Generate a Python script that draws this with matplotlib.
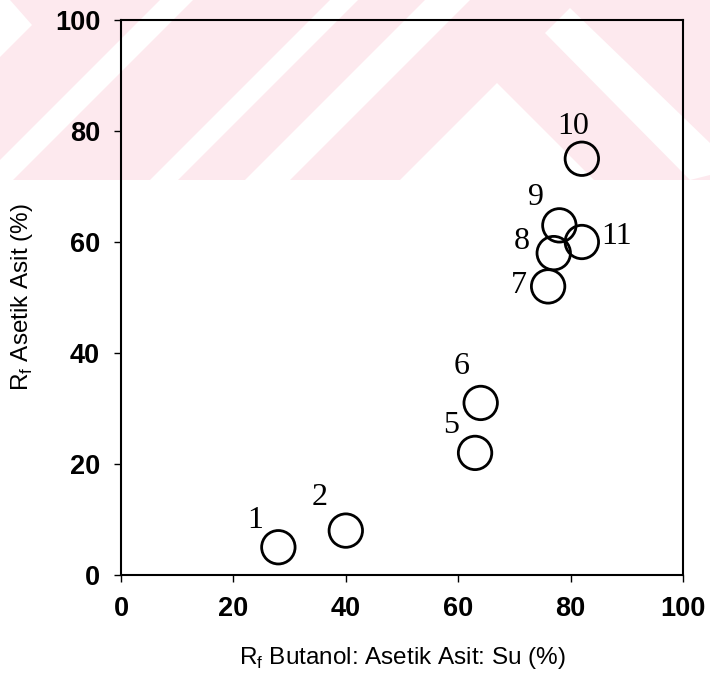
import matplotlib
matplotlib.use('Agg')
import matplotlib.pyplot as plt
from matplotlib.patches import Polygon

# data
labels = ['1', '2', '5', '6', '7', '8', '9', '10', '11']
rf_butanol = [28, 40, 63, 64, 76, 77, 78, 82, 82]
rf_asetik = [5, 8, 22, 31, 52, 58, 63, 75, 60]
# label offsets in points (dx, dy) from each circle
label_dx = [-17, -19, -17, -14, -21, -23, -17, -6, 25]
label_dy = [19, 24, 20, 26, 1, 8, 20, 23, 4]

W, H = 710, 677
fig = plt.figure(figsize=(W / 100, H / 100), dpi=100)
fig.patch.set_facecolor('white')


def px(pts):
    return [(x / W, 1 - y / H) for x, y in pts]


# faint pink watermark band at the top
pink = '#fde9ee'
fig.add_artist(Polygon(px([(0, 0), (W, 0), (W, 180), (0, 180)]), closed=True,
                       transform=fig.transFigure, facecolor=pink, edgecolor='none', zorder=-10))
white_shapes = [
    [(0, 0), (10, 0), (32, 25), (0, 57)],
    [(160, 0), (193, 0), (13, 180), (0, 180), (0, 160)],
    [(330, 0), (358, 0), (178, 180), (150, 180)],
    [(425, 0), (470, 0), (290, 180), (245, 180)],
    [(400, 180), (497, 83), (594, 180)],
    [(570, 8), (710, 143), (710, 175), (690, 180), (545, 33)],
]
for shp in white_shapes:
    fig.add_artist(Polygon(px(shp), closed=True, transform=fig.transFigure,
                           facecolor='white', edgecolor='none', zorder=-9))

ax = fig.add_axes([121 / W, 1 - 575 / H, (683 - 121) / W, (575 - 20) / H])
ax.set_facecolor('none')

ax.scatter(rf_butanol, rf_asetik, s=580, facecolors='none', edgecolors='black',
           linewidths=2.0, zorder=3, clip_on=False)
for lab, x, y, dx, dy in zip(labels, rf_butanol, rf_asetik, label_dx, label_dy):
    ax.annotate(lab, (x, y), xytext=(dx, dy), textcoords='offset points',
                ha='center', va='center', fontsize=23, family='Liberation Serif')

ax.set_xlim(0, 100)
ax.set_ylim(0, 100)
ax.set_xticks([0, 20, 40, 60, 80, 100])
ax.set_yticks([0, 20, 40, 60, 80, 100])
ax.tick_params(direction='out', length=5, width=1, labelsize=19.5, pad=10)
for lbl in ax.get_xticklabels() + ax.get_yticklabels():
    lbl.set_family('Liberation Sans')
    lbl.set_fontweight('bold')
for sp in ax.spines.values():
    sp.set_linewidth(1.5)

ax.set_xlabel('R$_\\mathregular{f}$ Butanol: Asetik Asit: Su (%)', fontsize=17.5,
              family='Liberation Sans', labelpad=17)
ax.set_ylabel('R$_\\mathregular{f}$ Asetik Asit (%)', fontsize=17.5,
              family='Liberation Sans', labelpad=14)

fig.savefig('out.png', dpi=100)
